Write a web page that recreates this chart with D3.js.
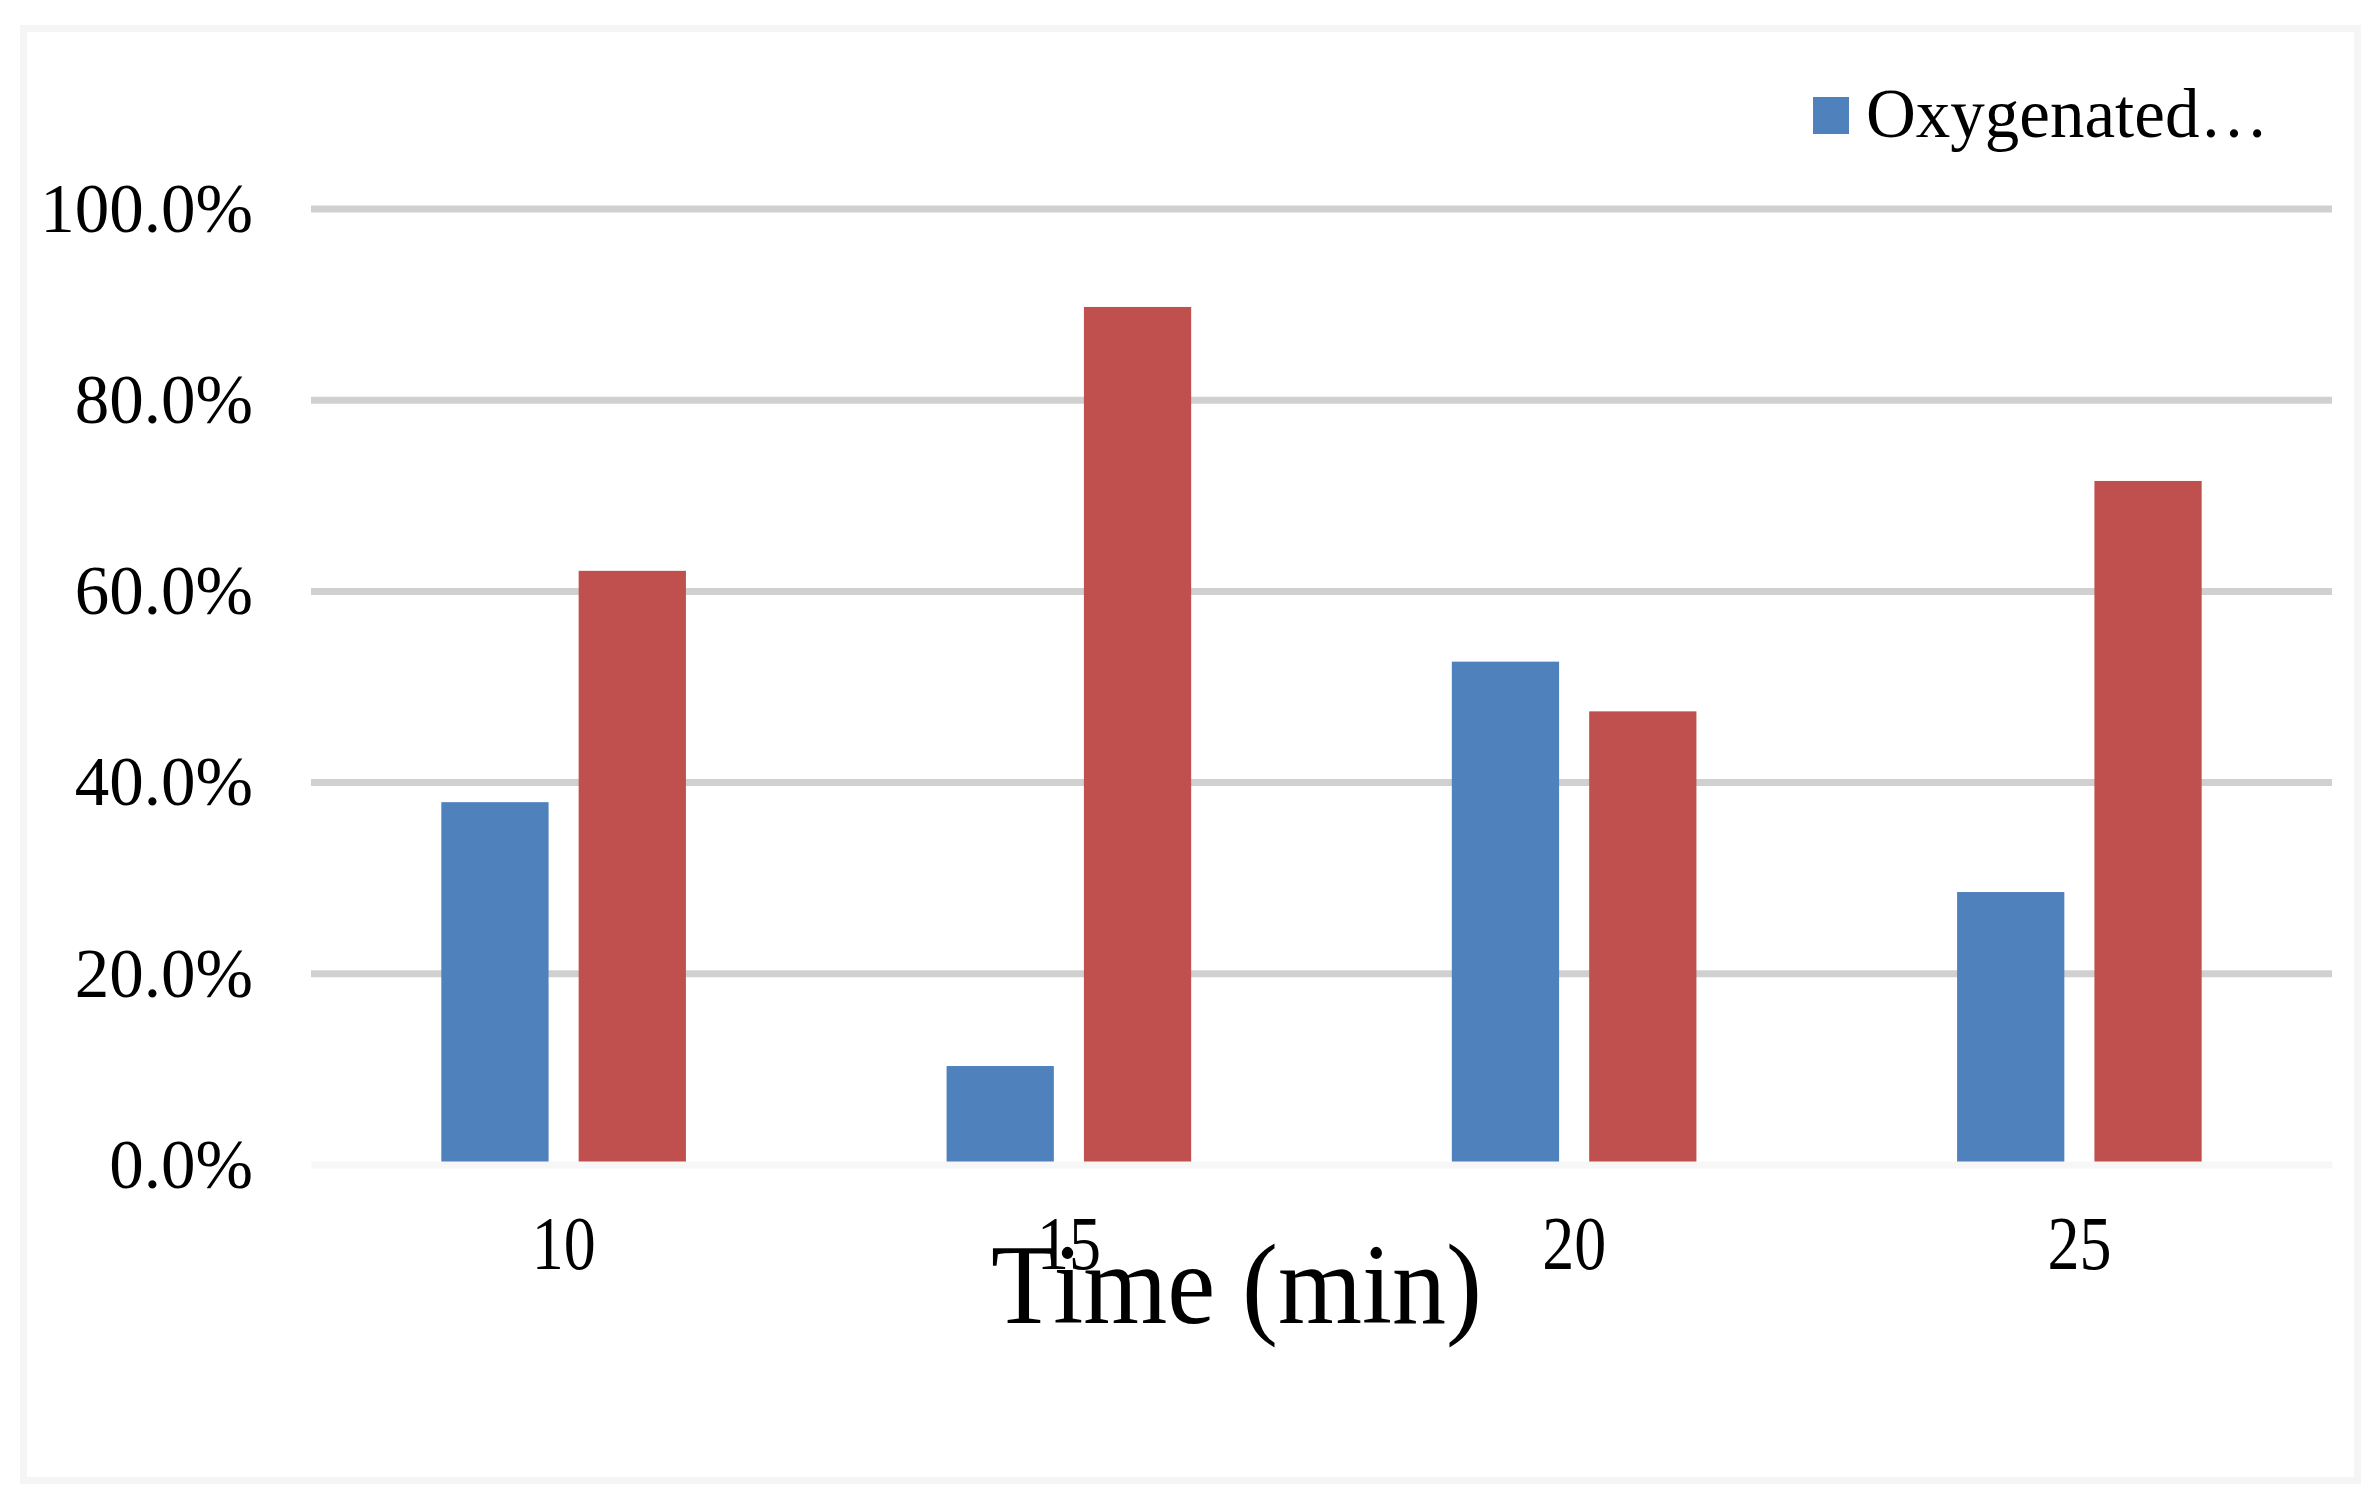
<!DOCTYPE html>
<html>
<head>
<meta charset="utf-8">
<script src="https://cdn.jsdelivr.net/npm/d3@7"></script>
<style>
  html, body { margin: 0; padding: 0; background: #ffffff; }
  svg { display: block; }
  text { font-family: "Liberation Serif", "Times New Roman", serif; fill: #000; }
</style>
</head>
<body>
<svg id="chart" width="2379" height="1504"></svg>
<script>
// ---- data ----
const categories = ["10", "15", "20", "25"];
const seriesNames = ["Oxygenated…", "Other"];
const oxygenated = [0.379, 0.103, 0.526, 0.285];
const other = [0.621, 0.897, 0.474, 0.715];
const yTicks = [0, 0.2, 0.4, 0.6, 0.8, 1.0];
const xTitle = "Time (min)";
const colors = ["#4F81BD", "#C0504D"];

const table = categories.map((c, i) => ({ cat: c, values: [oxygenated[i], other[i]] }));

const svg = d3.select("#chart");
const W = 2379, H = 1504;

// frame
svg.append("rect")
  .attr("x", 23.5).attr("y", 28.5)
  .attr("width", 2334).attr("height", 1452)
  .attr("fill", "#ffffff").attr("stroke", "#f5f5f5").attr("stroke-width", 7);

const plot = { left: 311, right: 2332, top: 208.5, bottom: 1164.5 };

const x0 = d3.scaleBand().domain(categories).range([plot.left, plot.right]).paddingInner(0).paddingOuter(0);
const x1 = d3.scaleBand().domain([0, 1]).range([0, x0.bandwidth()]).paddingInner(0.219).paddingOuter(0.949);
const y = d3.scaleLinear().domain([0, 1]).range([plot.bottom, plot.top]);

// y axis with gridlines
const yAxis = svg.append("g")
  .attr("transform", `translate(${plot.left},0)`)
  .call(d3.axisLeft(y).tickValues(yTicks).tickFormat(d3.format(".1%")).tickSize(-(plot.right - plot.left)).tickPadding(58));
yAxis.select(".domain").remove();
yAxis.selectAll(".tick line").attr("stroke", "#d0d0d0").attr("stroke-width", 7)
  .attr("display", d => d === 0 ? "none" : null);
yAxis.selectAll(".tick text").attr("font-size", 69).attr("dy", "0.33em")
  .style("font-family", '"Liberation Serif", "Times New Roman", serif');

// bars
const groups = svg.append("g").selectAll("g").data(table).join("g")
  .attr("transform", d => `translate(${x0(d.cat)},0)`);
groups.selectAll("rect").data(d => d.values.map((v, k) => ({ k, v }))).join("rect")
  .attr("x", d => x1(d.k))
  .attr("width", x1.bandwidth())
  .attr("y", d => y(d.v))
  .attr("height", d => y(0) - y(d.v))
  .attr("fill", d => colors[d.k]);

// x axis
const xAxis = svg.append("g")
  .attr("transform", `translate(0,${plot.bottom})`)
  .call(d3.axisBottom(x0).tickSize(0));
xAxis.select(".domain").attr("stroke", "#f7f7f7").attr("stroke-width", 7);
const sy = 1.18;
xAxis.selectAll(".tick text")
  .attr("font-size", 64)
  .attr("dy", 0)
  .attr("y", (1269 - plot.bottom) / sy)
  .attr("transform", `scale(1,${sy})`)
  .style("font-family", '"Liberation Serif", "Times New Roman", serif');

// x title
svg.append("text")
  .attr("x", 1236.5).attr("y", 1323 / 1.05)
  .attr("transform", "scale(1,1.05)")
  .attr("text-anchor", "middle")
  .attr("font-size", 108)
  .text(xTitle);

// legend
const lg = svg.append("g").attr("transform", "translate(1813,97)");
lg.append("rect").attr("width", 36).attr("height", 37).attr("fill", colors[0]);
lg.append("text").attr("x", 53).attr("y", 40).attr("font-size", 69).text(seriesNames[0]);
</script>
</body>
</html>
